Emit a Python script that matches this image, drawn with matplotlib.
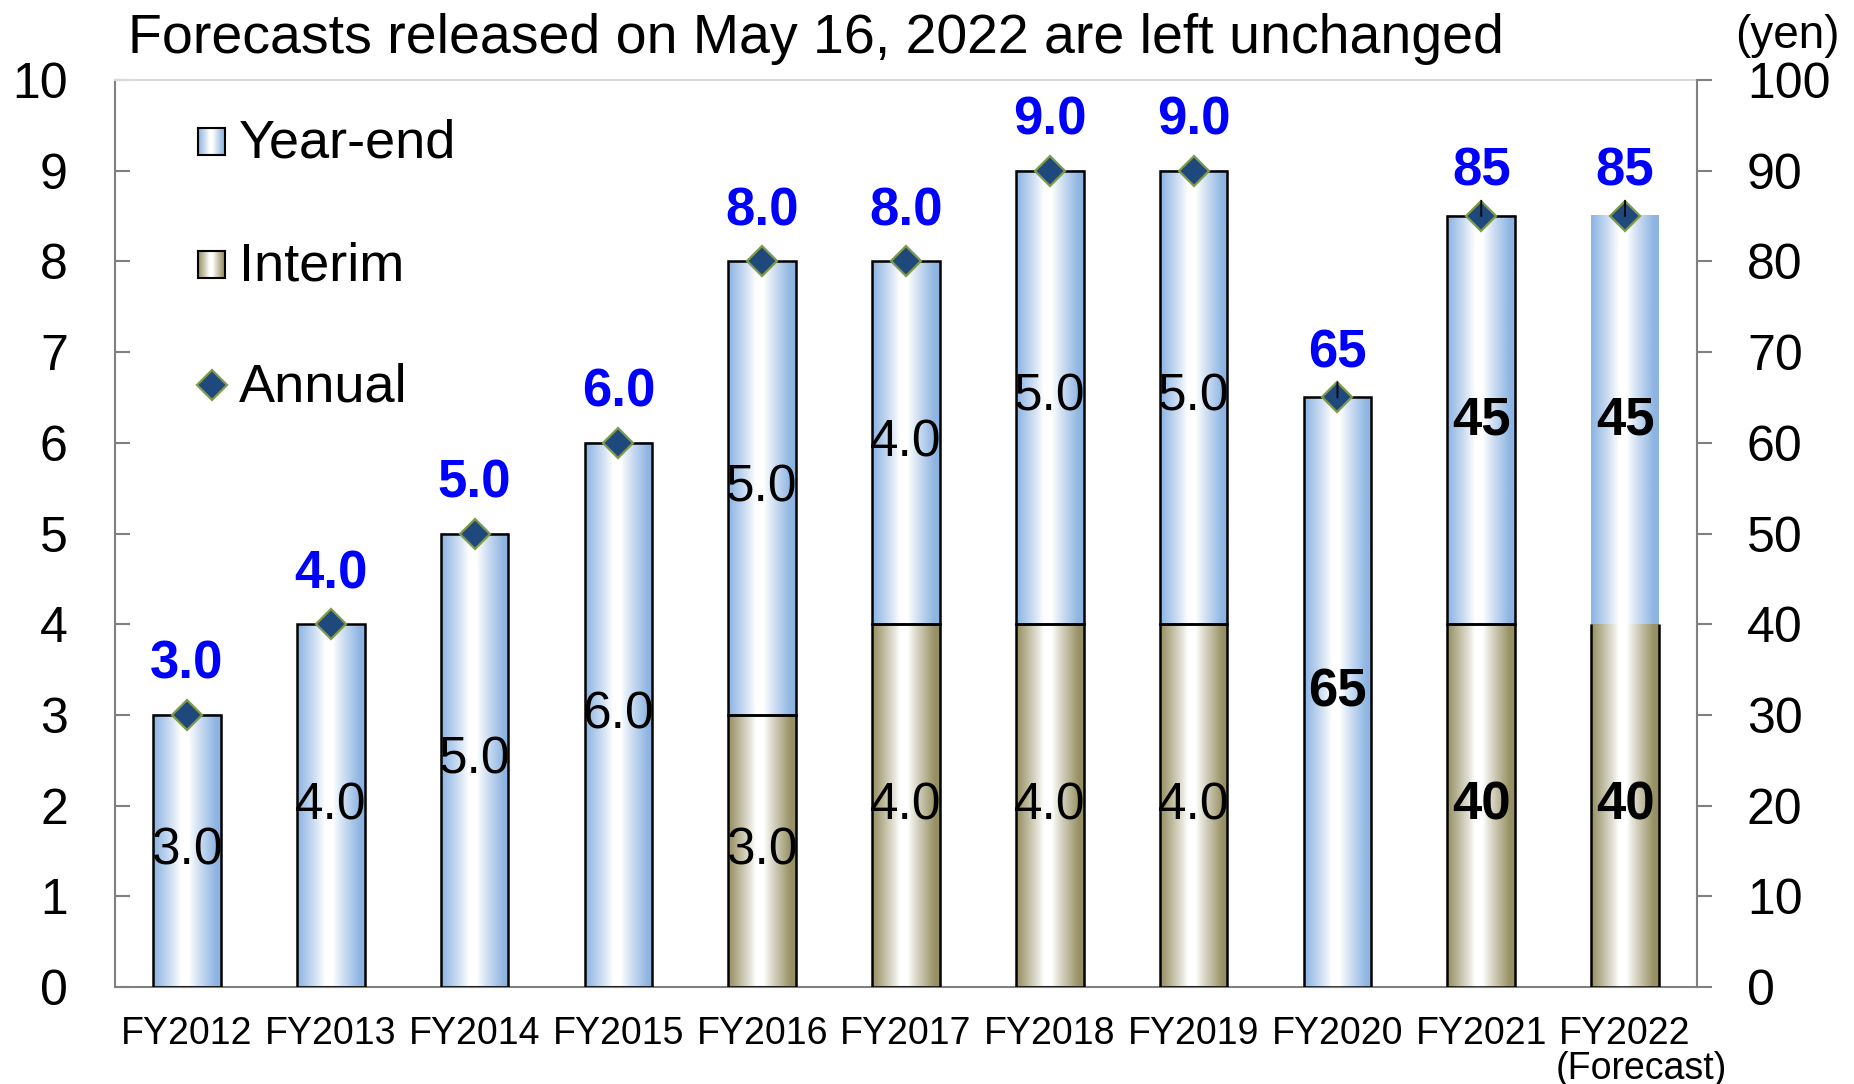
import numpy as np
import matplotlib.pyplot as plt
from matplotlib.colors import to_rgb

plt.rcParams['font.family'] = ['Liberation Sans', 'DejaVu Sans']

years = ['FY2012', 'FY2013', 'FY2014', 'FY2015', 'FY2016', 'FY2017',
         'FY2018', 'FY2019', 'FY2020', 'FY2021', 'FY2022']

# FY2012-FY2019 read on the left scale
old_interim = [0, 0, 0, 0, 3.0, 4.0, 4.0, 4.0]
old_year_end = [3.0, 4.0, 5.0, 6.0, 5.0, 4.0, 5.0, 5.0]
old_annual = [3.0, 4.0, 5.0, 6.0, 8.0, 8.0, 9.0, 9.0]

# FY2020 onward in yen, right scale
new_interim = [0, 40, 40]
new_year_end = [65, 45, 45]
new_annual = [65, 85, 85]

title = 'Forecasts released on May 16, 2022 are left unchanged'

BLUE = '#8DB4E2'
OLIVE = '#979063'
GREY = '#808080'
W = 0.47


def gradient(color, n=256):
    t = np.linspace(0, 1, n)
    a = np.clip((np.abs(t - 0.47) - 0.06) / 0.40, 0, 1) ** 0.9
    c = np.array(to_rgb(color))
    rgb = (1 - a)[:, None] * np.ones(3) + a[:, None] * c
    return rgb[None, :, :]


def fill_bars(ax, bars, color):
    for b in bars:
        if b.get_height() == 0:
            b.set_visible(False)
            continue
        x0, y0 = b.get_x(), b.get_y()
        ax.imshow(gradient(color), aspect='auto', interpolation='bilinear',
                  extent=[x0, x0 + b.get_width(), y0, y0 + b.get_height()],
                  zorder=2)


fig = plt.figure(figsize=(18.54, 10.84), dpi=100)
ax = fig.add_axes([115 / 1854, 97 / 1084, 1582 / 1854, 907 / 1084])
ax2 = ax.twinx()

x = np.arange(len(years))
x_old = x[:len(old_annual)]
x_new = x[len(old_annual):]

# old scale bars
b_int = ax.bar(x_old, old_interim, W, facecolor='none', edgecolor='black', lw=1.8, zorder=3)
b_ye = ax.bar(x_old, old_year_end, W, bottom=old_interim, facecolor='none',
              edgecolor='black', lw=1.8, zorder=3)
fill_bars(ax, b_int, OLIVE)
fill_bars(ax, b_ye, BLUE)

# yen bars, the forecast year has no outline on the year-end part
n_int = ax2.bar(x_new, new_interim, W, facecolor='none',
                edgecolor=['black', 'black', 'none'], lw=1.8, zorder=3)
n_ye = ax2.bar(x_new, new_year_end, W, bottom=new_interim, facecolor='none',
               edgecolor=['black', 'black', 'none'], lw=1.8, zorder=3)
fill_bars(ax2, n_int, OLIVE)
fill_bars(ax2, n_ye, BLUE)
fb = n_int[-1]
fx0, fx1 = fb.get_x(), fb.get_x() + fb.get_width()
fy0, fy1 = fb.get_y(), fb.get_y() + fb.get_height()
ax2.plot([fx0, fx0, fx1, fx1], [fy1, fy0, fy0, fy1], color='black', lw=1.8,
         zorder=3, solid_capstyle='butt')

# values inside the bars
ax.bar_label(b_int, labels=[f'{v:.1f}' if v else '' for v in old_interim],
             label_type='center', fontsize=37, zorder=6)
ax.bar_label(b_ye, labels=[f'{v:.1f}' for v in old_year_end],
             label_type='center', fontsize=37, zorder=6)
ax2.bar_label(n_int, labels=[f'{v}' if v else '' for v in new_interim],
              label_type='center', fontsize=38, fontweight='bold', zorder=6)
ax2.bar_label(n_ye, labels=[f'{v}' for v in new_year_end],
              label_type='center', fontsize=38, fontweight='bold', zorder=6)

# annual totals
mk = dict(ls='none', marker='D', ms=15, mfc='#1F497D', mec='#7F9A48', mew=1.6, zorder=4)
ax.plot(x_old, old_annual, **mk)
ax2.plot(x_new, new_annual, **mk)
for xi, v in zip(x_old, old_annual):
    ax.annotate(f'{v:.1f}', (xi, v), xytext=(0, 36), textcoords='offset points',
                ha='center', va='center', color='#0000FF', fontsize=38,
                fontweight='bold')
for xi, v in zip(x_new, new_annual):
    ax2.annotate(f'{v}', (xi, v), xytext=(0, 32), textcoords='offset points',
                 ha='center', va='center', color='#0000FF', fontsize=38,
                 fontweight='bold', zorder=5,
                 arrowprops=dict(arrowstyle='-', color='black', lw=1.3,
                                 shrinkA=1, shrinkB=0))

ax.set_xlim(-0.5, len(years) - 0.5)
ax.set_ylim(0, 10)
ax2.set_ylim(0, 100)
ax.set_yticks(range(0, 11))
ax2.set_yticks(range(0, 101, 10))
ax.set_xticks(x)
ax.set_xticklabels(years)
ax.annotate('(Forecast)', (x[-1], 0), xycoords=ax.get_xaxis_transform(),
            xytext=(11.5, -59), textcoords='offset points', ha='center',
            va='center', fontsize=27, annotation_clip=False)

ax.tick_params(axis='x', length=0, labelsize=27, pad=21)
ax.tick_params(axis='y', direction='in', length=11, width=1.5, color=GREY,
               labelsize=36, pad=34)
ax2.tick_params(axis='y', direction='out', length=11, width=1.5, color=GREY,
                labelsize=36, pad=25)

for s in ['left', 'bottom']:
    ax.spines[s].set_color(GREY)
    ax.spines[s].set_linewidth(1.5)
ax.spines['top'].set_color('#D9D9D9')
ax.spines['top'].set_linewidth(1.5)
ax.spines['right'].set_visible(False)
for s in ['left', 'bottom', 'top']:
    ax2.spines[s].set_visible(False)
ax2.spines['right'].set_color(GREY)
ax2.spines['right'].set_linewidth(1.5)

# legend
for label, col, yb in [('Year-end', BLUE, 0.917), ('Interim', OLIVE, 0.7817)]:
    lax = ax.inset_axes([0.0525, yb, 0.0171, 0.0298])
    lax.imshow(gradient(col), aspect='auto', interpolation='bilinear')
    lax.set_xticks([])
    lax.set_yticks([])
    for sp in lax.spines.values():
        sp.set_linewidth(1.5)
    ax.text(0.0784, yb + 0.0125, label, transform=ax.transAxes, va='center',
            fontsize=39)
ax.plot([0.061], [0.664], transform=ax.transAxes, **mk)
ax.text(0.0784, 0.661, 'Annual', transform=ax.transAxes, va='center', fontsize=39)

fig.text(128 / 1854, 0.964, title, ha='left', va='center', fontsize=40)
fig.text(0.964, 0.967, '(yen)', ha='center', va='center', fontsize=33)

fig.savefig('out.png', dpi=100)
